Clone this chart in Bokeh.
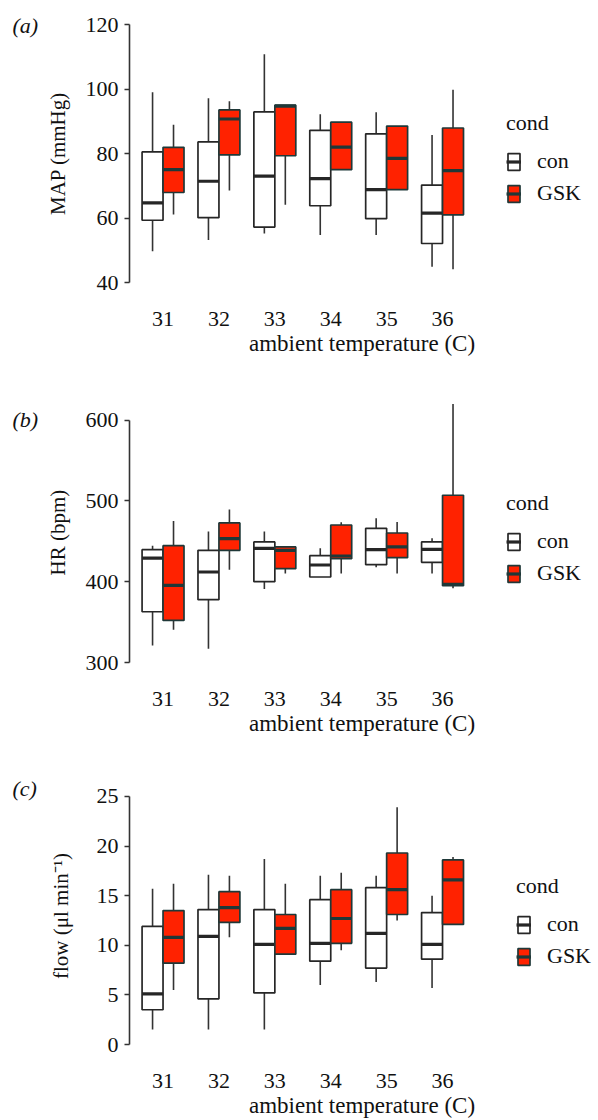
from bokeh.plotting import figure
from bokeh.models import (Range1d, FixedTicker, ColumnDataSource, Legend, LegendItem, Title)
from bokeh.transform import dodge
from bokeh.embed import file_html
from bokeh.resources import INLINE

# ---- data: (lower whisker, Q1, median, Q3, upper whisker) per temperature ----
temps = [31, 32, 33, 34, 35, 36]
conditions = ["con", "GSK"]

map_con = [(49.7, 59.3, 64.7, 80.5, 99.0), (53.2, 60.1, 71.4, 83.6, 97.1),
           (55.2, 57.2, 73.0, 92.9, 110.8), (54.7, 63.8, 72.2, 87.2, 92.2),
           (54.7, 59.8, 68.8, 86.1, 92.8), (44.9, 52.1, 61.5, 70.2, 85.7)]
map_gsk = [(61.1, 67.9, 75.0, 81.9, 88.9), (68.5, 79.6, 90.7, 93.5, 96.2),
           (64.1, 79.3, 94.7, 95.0, 95.0), (75.0, 75.0, 82.0, 89.7, 89.7),
           (68.8, 68.8, 78.5, 88.5, 88.5), (44.1, 61.0, 74.7, 87.9, 99.8)]

hr_con = [(321.1, 362.8, 429.3, 439.7, 444.6), (317.0, 377.7, 412.0, 438.8, 462.0),
          (390.9, 400.0, 441.3, 449.2, 462.0), (405.8, 405.8, 420.7, 432.2, 441.3),
          (417.8, 421.1, 439.7, 466.1, 478.5), (410.0, 424.0, 440.1, 449.2, 453.7)]
hr_gsk = [(340.5, 352.1, 395.5, 444.6, 475.2), (414.9, 438.8, 453.3, 472.7, 489.3),
          (410.0, 416.1, 438.8, 443.0, 443.0), (410.0, 428.5, 431.8, 470.2, 473.6),
          (410.0, 429.8, 443.0, 460.3, 474.0), (392.0, 395.0, 396.7, 507.0, 619.8)]

flow_con = [(1.5, 3.5, 5.1, 11.9, 15.7), (1.5, 4.6, 10.9, 13.6, 17.1),
            (1.5, 5.2, 10.1, 13.6, 18.7), (6.0, 8.4, 10.2, 14.6, 17.0),
            (6.3, 7.7, 11.2, 15.8, 17.0), (5.7, 8.6, 10.1, 13.3, 15.0)]
flow_gsk = [(5.5, 8.2, 10.8, 13.5, 16.2), (10.8, 12.3, 13.8, 15.4, 17.0),
            (9.1, 9.1, 11.7, 13.1, 16.2), (9.5, 10.2, 12.7, 15.6, 17.3),
            (12.5, 13.1, 15.6, 19.3, 23.9), (12.1, 12.1, 16.6, 18.6, 18.9)]

map_ticks = [40, 60, 80, 100, 120]
hr_ticks = [300, 400, 500, 600]
flow_ticks = [0, 5, 10, 15, 20, 25]

# ---- layout / style constants ----
FONT = "Liberation Serif"
TXT = "#111111"
BOX_W = 0.375
STYLES = {"con": ("white", "#262626"), "GSK": ("#ff2200", "#1f3838")}
FIG_W = 598
BORDER_L = 129
BORDER_R = 4
PX_PER_UNIT = 55.9            # horizontal scale of one temperature step
X_START = 30.4
FRAME_W = FIG_W - BORDER_L - BORDER_R
X_END = X_START + FRAME_W / PX_PER_UNIT
DATA_CENTER_PX = (6.2 * PX_PER_UNIT) / 2      # centre of the 30.4..36.6 band


def make_panel(tag, ylabel, con, gsk, ticks, height, top, bottom, leg_loc,
               tag_standoff, ylab_standoff):
    top_val = max(ticks[-1], max(s[4] for s in con + gsk) + 2)
    p = figure(width=FIG_W, height=height, x_range=Range1d(X_START, X_END),
               y_range=Range1d(ticks[0], top_val), output_backend="svg",
               toolbar_location=None, min_border_left=BORDER_L,
               min_border_right=BORDER_R, min_border_top=top,
               min_border_bottom=bottom)
    p.outline_line_color = None
    p.xgrid.visible = False
    p.ygrid.visible = False

    # panel tag "(a)" etc. as the title, pulled to the left edge
    p.title.text = tag
    p.title.align = "left"
    p.title.offset = -117
    p.title.standoff = tag_standoff
    p.title.text_font = FONT
    p.title.text_font_size = "22px"
    p.title.text_font_style = "italic"
    p.title.text_color = TXT

    items = []
    for cond, stats, off in (("con", con, -BOX_W / 2), ("GSK", gsk, BOX_W / 2)):
        fill, line = STYLES[cond]
        src = ColumnDataSource(dict(
            temp=temps,
            low=[s[0] for s in stats], q1=[s[1] for s in stats],
            med=[s[2] for s in stats], q3=[s[3] for s in stats],
            high=[s[4] for s in stats]))
        xc = dodge("temp", off)
        p.segment(x0=xc, y0="q3", x1=xc, y1="high", line_color="#333333",
                  line_width=1.6, source=src)
        p.segment(x0=xc, y0="low", x1=xc, y1="q1", line_color="#333333",
                  line_width=1.6, source=src)
        box = p.vbar(x=xc, width=BOX_W, top="q3", bottom="q1", fill_color=fill,
                     line_color=line, line_width=1.7, source=src)
        med = p.segment(x0=dodge("temp", off - BOX_W / 2), y0="med",
                        x1=dodge("temp", off + BOX_W / 2), y1="med",
                        line_color=line, line_width=3.2, source=src)
        items.append(LegendItem(label=cond, renderers=[box, med]))

    # x axis: labels only, no line / ticks
    p.xaxis.ticker = FixedTicker(ticks=temps)
    p.xaxis.axis_line_color = None
    p.xaxis.major_tick_line_color = None
    p.xaxis.minor_tick_line_color = None
    p.xaxis.major_label_standoff = 23

    # x axis title, centred under the temperature band
    xt = Title(text="ambient temperature (C)", align="center",
               offset=DATA_CENTER_PX - FRAME_W / 2, standoff=1,
               text_font=FONT, text_font_size="23px", text_font_style="normal",
               text_color=TXT)
    p.add_layout(xt, "below")

    # y axis (line limited to the tick span)
    p.yaxis.ticker = FixedTicker(ticks=ticks)
    p.yaxis.bounds = (ticks[0], ticks[-1])
    p.yaxis.axis_label = ylabel
    p.yaxis.axis_line_color = "#333333"
    p.yaxis.axis_line_width = 1.6
    p.yaxis.major_tick_line_color = "#333333"
    p.yaxis.major_tick_line_width = 1.6
    p.yaxis.major_tick_out = 5
    p.yaxis.major_tick_in = 0
    p.yaxis.minor_tick_line_color = None
    p.yaxis.major_label_standoff = 6
    p.yaxis.axis_label_standoff = ylab_standoff
    p.yaxis.axis_label_text_font_size = "21px"

    for ax in (p.xaxis, p.yaxis):
        ax.major_label_text_font = FONT
        ax.major_label_text_font_size = "22px"
        ax.major_label_text_color = TXT
        ax.axis_label_text_font = FONT
        ax.axis_label_text_font_style = "normal"
        ax.axis_label_text_color = TXT

    legend = Legend(items=items, location=leg_loc, title="cond",
                    title_text_font=FONT, title_text_font_size="22px",
                    title_text_font_style="normal", title_text_color=TXT,
                    title_standoff=12,
                    label_text_font=FONT, label_text_font_size="22px",
                    label_text_color=TXT, label_standoff=16,
                    glyph_width=15, glyph_height=21, spacing=6,
                    border_line_color=None, background_fill_alpha=0,
                    padding=10, margin=0)
    p.add_layout(legend, "center")
    return p


pa = make_panel("(a)", "MAP (mmHg)", map_con, map_gsk, map_ticks,
                380, 24, 98, (377, 76), -26, 13)
pb = make_panel("(b)", "HR (bpm)", hr_con, hr_gsk, hr_ticks,
                370, 22, 88, (377, 76), -58, 13)
pc = make_panel("(c)", "flow (\u03bcl min\u207b\u00b9)", flow_con, flow_gsk, flow_ticks,
                368, 37, 73, (387, 75), -26, 21)

open("out.html", "w").write(file_html([pa, pb, pc], INLINE))
